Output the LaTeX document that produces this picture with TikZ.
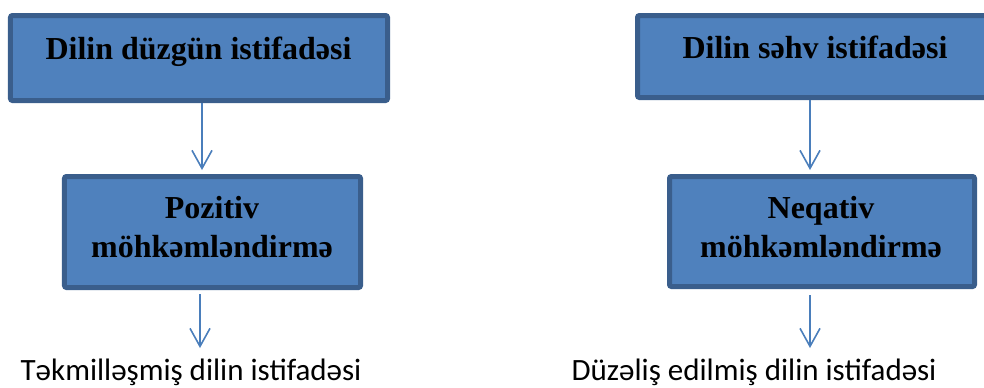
\documentclass[tikz,border=0pt]{standalone}
\usepackage{fontspec}
\setmainfont{Liberation Serif}
\newfontfamily\calib{Carlito}
\usetikzlibrary{arrows.meta}
\definecolor{boxfill}{HTML}{4F81BD}
\definecolor{boxline}{HTML}{3A5E8C}
\definecolor{arrline}{HTML}{4A7EBB}
\tikzset{
  bluebox/.style={draw=boxline, fill=boxfill, line width=5bp, rounded corners=2bp, inner sep=0pt},
  boxtext/.style={font=\fontsize{32bp}{39bp}\selectfont\bfseries, align=center, inner sep=0pt, anchor=base},
  lowtext/.style={font=\calib\fontsize{31bp}{37bp}\selectfont, inner sep=0pt, anchor=base},
  flowarrow/.style={draw=arrline, line width=1.6bp, -{Straight Barb[length=18bp,width=20bp,line width=1.6bp]}}
}
\begin{document}
\begin{tikzpicture}[x=1bp,y=-1bp]
\useasboundingbox (0,0) rectangle (984,387);
\clip (0,0) rectangle (984,387);
% boxes
\node[bluebox, minimum width=377bp, minimum height=85bp] (b1) at (199,58) {};
\node[bluebox, minimum width=355bp, minimum height=82bp] (b3) at (815,56.5) {};
\node[bluebox, minimum width=296bp, minimum height=111bp] (b2) at (212.5,232) {};
\node[bluebox, minimum width=305bp, minimum height=110bp] (b4) at (822,231.5) {};
% box texts (anchor=base is the baseline of the last line)
\node[boxtext] (t1) at (198.5,59) {Dilin düzgün istifadəsi};
\node[boxtext] (t3) at (815,58) {Dilin səhv istifadəsi};
\node[boxtext] (t2) at (212,257) {Pozitiv\\möhkəmləndirmə};
\node[boxtext] (t4) at (821,257) {Neqativ\\möhkəmləndirmə};
% bottom texts
\node[lowtext] (t5) at (191,380) {Təkmilləşmiş dilin istifadəsi};
\node[lowtext] (t6) at (754,380) {Düzəliş edilmiş dilin istifadəsi};
% arrow ends
\coordinate (e5) at (200,348);
\coordinate (e6) at (810,348);
% arrows
\draw[flowarrow] ([xshift=3bp]b1.south) -- ([xshift=3bp,yshift=4bp]b1.south |- b2.north);
\draw[flowarrow] ([xshift=-5bp]b3.south) -- ([xshift=-5bp,yshift=4bp]b3.south |- b4.north);
\draw[flowarrow] ([xshift=-12.5bp,yshift=-4bp]b2.south) -- (e5);
\draw[flowarrow] ([xshift=-12bp,yshift=-6bp]b4.south) -- (e6);
\end{tikzpicture}
\end{document}
